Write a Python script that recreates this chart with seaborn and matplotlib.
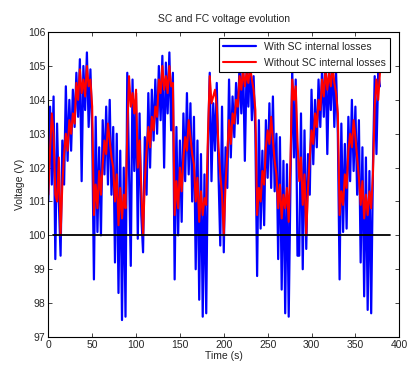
import numpy as np
import pandas as pd
import matplotlib
matplotlib.use("Agg")
import matplotlib.pyplot as plt
import seaborn as sns

# --- DATA (2 s sampling, four repeated driving cycles) ---
blue_c1 = [101.0, 103.8, 101.5, 104.1, 99.3, 103.3, 101.0, 99.4, 102.8, 101.5, 104.4, 102.2,
           104.0, 102.5, 104.3, 103.2, 104.8, 103.5, 105.2, 101.6, 105.0, 103.7, 105.4, 103.2,
           104.9, 103.1, 98.7, 103.5, 100.1, 102.6, 100.0, 103.4, 101.8, 103.8, 101.5, 104.0,
           101.2, 103.2, 99.2, 103.0, 98.3, 102.5, 97.5, 102.0, 97.6, 104.8, 102.0, 99.1]
red_c1 = [101.2, 102.5, 103.6, 103.0, 101.2, 101.0, 102.3, 100.0, 101.5, 102.4, 103.0, 102.5,
          103.4, 103.0, 103.6, 103.3, 104.5, 104.0, 104.9, 104.2, 104.6, 104.1, 105.0, 104.4,
          104.6, 103.8, 100.6, 101.5, 100.8, 101.9, 101.2, 102.1, 102.8, 102.4, 103.3, 102.8,
          102.3, 102.0, 101.0, 101.8, 100.3, 101.4, 100.5, 101.2, 100.8, 103.0, 104.7, 103.8]

blue_c2 = [104.6, 101.9, 104.2, 99.9, 103.6, 100.6, 99.5, 102.9, 101.2, 104.2, 102.0, 104.3,
           102.8, 104.6, 103.0, 105.0, 103.4, 105.3, 102.0, 105.1, 103.6, 105.4, 103.1, 104.8,
           98.7, 103.2, 100.0, 102.8, 100.4, 103.6, 101.6, 104.2, 101.8, 103.9, 101.0, 103.5,
           99.0, 102.8, 98.1, 102.4, 97.6, 101.8, 97.7, 102.6, 104.8, 101.6, 103.9]
red_c2 = [104.2, 103.6, 104.3, 102.0, 102.8, 101.4, 100.0, 101.6, 102.5, 103.2, 102.6, 103.5,
          103.1, 103.8, 103.5, 104.6, 104.2, 105.0, 104.3, 104.7, 104.2, 105.0, 104.4, 104.5,
          100.6, 101.6, 100.8, 102.0, 101.3, 102.3, 102.9, 102.5, 103.4, 102.9, 102.4, 102.1,
          101.0, 101.7, 100.4, 101.3, 100.6, 101.1, 100.9, 103.0, 104.7, 103.9, 104.1]

blue_c3 = [102.5, 104.5, 101.8, 99.7, 103.8, 99.5, 102.6, 101.4, 104.6, 102.3, 104.1, 102.9,
           104.5, 103.3, 105.1, 103.6, 105.2, 102.2, 104.9, 103.8, 105.3, 103.4, 104.7, 103.0,
           98.8, 103.4, 100.2, 102.5, 100.3, 103.4, 101.7, 103.9, 101.4, 104.1, 101.3, 103.0,
           99.3, 102.9, 98.4, 102.2, 97.7, 102.1, 97.6, 101.5, 104.9, 102.3, 104.6, 99.4]
red_c3 = [104.3, 103.8, 102.6, 101.8, 101.2, 100.0, 101.5, 102.4, 103.4, 102.7, 103.6, 103.3,
          104.0, 103.8, 104.7, 104.3, 104.9, 104.4, 104.8, 104.5, 105.0, 104.6, 104.3, 103.7,
          100.6, 101.4, 101.0, 101.9, 101.5, 102.6, 103.1, 102.7, 103.5, 102.8, 102.2, 101.8,
          100.8, 101.5, 100.5, 101.2, 100.8, 101.4, 100.4, 102.2, 104.6, 104.0, 104.4, 102.8]

blue_c4 = [99.4, 103.6, 99.0, 103.1, 99.6, 102.4, 101.2, 104.3, 102.1, 104.0, 102.6, 104.6,
           103.2, 104.9, 103.5, 105.2, 102.4, 105.0, 103.7, 105.3, 103.2, 104.8, 103.0, 98.7,
           103.3, 100.1, 102.7, 100.2, 103.5, 101.6, 104.0, 101.9, 103.8, 101.2, 103.4, 99.2,
           102.6, 98.2, 102.3, 97.8, 101.9, 97.7, 102.0, 104.7, 102.4, 104.8, 104.4]
red_c4 = [101.6, 102.3, 100.9, 101.8, 100.0, 101.4, 102.3, 103.1, 102.7, 103.6, 103.2, 104.0,
          103.7, 104.6, 104.1, 104.9, 104.3, 104.8, 104.4, 105.0, 104.5, 104.2, 103.6, 100.6,
          101.3, 100.9, 101.8, 101.4, 102.5, 103.0, 102.6, 103.4, 102.9, 102.3, 101.7, 100.9,
          101.6, 100.5, 101.2, 100.6, 101.3, 100.8, 101.8, 103.8, 104.6, 104.0, 104.8]

with_losses = blue_c1 + blue_c2 + blue_c3 + blue_c4
without_losses = red_c1 + red_c2 + red_c3 + red_c4
time_s = np.arange(len(with_losses)) * 2

ref_time = [5, 389]
ref_voltage = [100, 100]

df = pd.DataFrame({"Time": time_s, "With": with_losses, "Without": without_losses})

# --- STYLE (MATLAB-like) ---
sns.set_style("ticks")
plt.rcParams["font.family"] = ["Liberation Sans", "DejaVu Sans"]
plt.rcParams["xtick.direction"] = "in"
plt.rcParams["ytick.direction"] = "in"

fig = plt.figure(figsize=(4.1, 3.7), dpi=100)
ax = fig.add_axes([0.1178, 0.0892, 0.856, 0.824])

sns.lineplot(data=df, x="Time", y="With", ax=ax, color="#0000ff", lw=1.6,
             label="With SC internal losses")
sns.lineplot(data=df, x="Time", y="Without", ax=ax, color="#ff0000", lw=1.5,
             label="Without SC internal losses")
ax.plot(ref_time, ref_voltage, color="black", lw=1.3)

ax.set_xlim(0, 400)
ax.set_ylim(97, 106)
ax.set_xticks(range(0, 401, 50))
ax.set_yticks(range(97, 107))
ax.tick_params(labelsize=7.5, length=3, width=0.6, top=True, right=True, pad=2)
for s in ax.spines.values():
    s.set_linewidth(0.8)
    s.set_color("black")

ax.set_title("SC and FC voltage evolution", fontsize=7.5, pad=7)
ax.set_xlabel("Time (s)", fontsize=7.5, labelpad=1)
ax.set_ylabel("Voltage (V)", fontsize=7.5, labelpad=2)

leg = ax.legend(loc="upper right", bbox_to_anchor=(0.975, 0.982), borderaxespad=0,
                fontsize=7.5, fancybox=False, framealpha=1, edgecolor="black",
                handlelength=3.2, labelspacing=0.6)
leg.get_frame().set_linewidth(0.8)

plt.savefig("out.png", dpi=100)
